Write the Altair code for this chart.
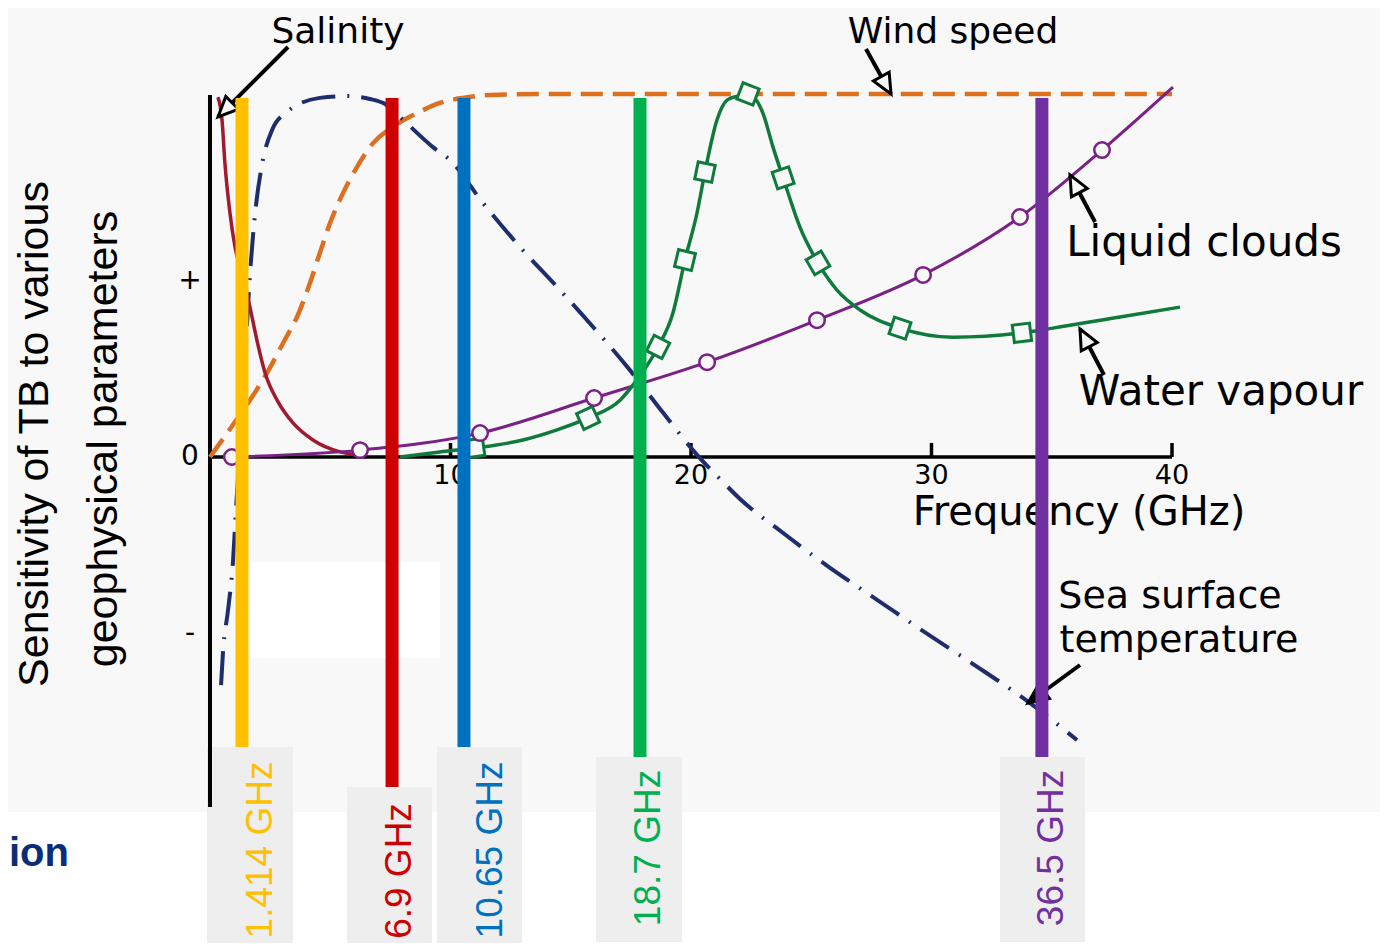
import altair as alt
import numpy as np
import pandas as pd

# ---------------- values ----------------
# x: frequency (GHz); y: relative sensitivity (top of the plot = 1, zero line = 0)
salinity_freq = [0.33, 0.50, 0.62, 0.83, 1.04, 1.33, 1.66, 1.95, 2.29, 2.79, 3.45, 4.28, 5.41, 6.11]
salinity_sens = [0.994, 0.931, 0.812, 0.674, 0.580, 0.508, 0.414, 0.323, 0.232, 0.157, 0.094, 0.047, 0.014, 0.006]

sst_freq = [0.46, 0.54, 0.75, 0.96, 1.08, 1.37, 1.66, 1.87, 2.16, 2.58, 3.20, 4.57, 5.70, 6.65, 7.28,
            7.90, 9.27, 9.98, 11.35, 12.89, 14.43, 15.93, 17.46, 18.84, 20.25, 21.21, 22.04, 23.83,
            25.65, 27.86, 29.81, 31.73, 34.10, 36.05]
sst_sens = [-0.630, -0.539, -0.423, -0.285, -0.146, 0.157, 0.503, 0.669, 0.807, 0.903, 0.953, 0.992,
            0.997, 0.989, 0.975, 0.939, 0.856, 0.820, 0.702, 0.580, 0.470, 0.359, 0.240, 0.122, 0.006,
            -0.061, -0.116, -0.210, -0.300, -0.400, -0.488, -0.572, -0.680, -0.782]

wind_freq = [0.0, 0.71, 1.66, 2.37, 3.04, 3.62, 4.16, 4.57, 4.99, 5.53, 6.11, 6.78, 7.61, 8.61, 9.56,
             10.52, 11.64, 14.0, 20.0, 30.0, 40.0]
wind_sens = [0.0, 0.066, 0.157, 0.232, 0.315, 0.387, 0.481, 0.564, 0.646, 0.729, 0.801, 0.867, 0.912,
             0.950, 0.978, 0.992, 1.000, 1.003, 1.003, 1.003, 1.003]

wv_freq = [7.90, 9.56, 11.02, 13.01, 14.43, 15.72, 17.05, 17.75, 18.63, 19.25, 19.75, 20.25, 20.58,
           21.08, 21.50, 21.95, 22.37, 22.99, 23.41, 23.83, 24.53, 25.28, 26.07, 27.03, 28.69, 30.89,
           33.76, 35.05, 37.84, 40.33]
wv_sens = [0.0, 0.014, 0.025, 0.047, 0.075, 0.108, 0.157, 0.213, 0.304, 0.398, 0.544, 0.674, 0.787,
           0.931, 0.986, 0.997, 1.003, 0.950, 0.856, 0.771, 0.635, 0.536, 0.461, 0.406, 0.356, 0.331,
           0.343, 0.356, 0.387, 0.414]
wv_marker_freq = [11.02, 15.72, 18.63, 19.75, 20.58, 22.37, 23.83, 25.28, 28.69, 33.76]
wv_marker_sens = [0.025, 0.108, 0.304, 0.544, 0.787, 1.003, 0.771, 0.536, 0.356, 0.343]

lc_freq = [0.91, 6.24, 11.23, 15.97, 20.67, 25.24, 29.65, 33.68, 37.09, 40.04]
lc_sens = [0.0, 0.019, 0.066, 0.163, 0.262, 0.378, 0.503, 0.663, 0.848, 1.022]
lc_marker_freq = [0.91, 6.24, 11.23, 15.97, 20.67, 25.24, 29.65, 33.68, 37.09]
lc_marker_sens = [0.0, 0.019, 0.066, 0.163, 0.262, 0.378, 0.503, 0.663, 0.848]

# radiometer bands: label, where the band is drawn on the GHz axis, colour
band_labels = ["1.414 GHz", "6.9 GHz", "10.65 GHz", "18.7 GHz", "36.5 GHz"]
band_pos = [1.33, 7.57, 10.56, 17.88, 34.59]
band_colors = ["#FFC000", "#CC0000", "#0070C0", "#00B050", "#7030A0"]

x_tick_vals = [10, 20, 30, 40]
x_tick_text = ["10", "20", "30", "40"]
y_tick_vals = [0.485, 0.0, -0.49]
y_tick_text = ["+", "0", "-"]

# ---------------- layout ----------------
W, H = 1372, 935
XA, XB = -8.399, 48.649
YT, YB = 1.2403, -1.3425
OFF = 8  # page margin

xs = alt.Scale(domain=[XA, XB], nice=False, zero=False)
ys = alt.Scale(domain=[YB, YT], nice=False, zero=False)


def v_of(py):  # page pixel row -> sensitivity value
    return YT - (py - OFF) / H * (YT - YB)


def X(f):
    return alt.X(f, type="quantitative", scale=xs, axis=None)


def Y(f):
    return alt.Y(f, type="quantitative", scale=ys, axis=None)


def PX(f):
    return alt.X(f, type="quantitative", scale=None, axis=None)


def PY(f):
    return alt.Y(f, type="quantitative", scale=None, axis=None)


def cp(v):  # page px -> canvas px
    return [a - OFF for a in v]


PXF = W / (XB - XA)
PXV = H / (YT - YB)

# background panels and label boxes (page pixels)
rects = pd.DataFrame({
    "x0": cp([8, 250, 207, 347, 437, 596, 1000]),
    "x1": cp([1380, 440, 293, 432, 522, 682, 1085]),
    "y0": cp([8, 562, 747, 787, 747, 757, 757]),
    "y1": cp([812, 658, 951, 951, 951, 942, 942]),
    "c": ["#f8f8f8", "#ffffff", "#eeeeee", "#eeeeee", "#eeeeee", "#eeeeee", "#eeeeee"],
})
rect_layer = alt.Chart(rects).mark_rect().encode(
    x=PX("x0"), x2="x1", y=PY("y0"), y2="y1", color=alt.Color("c:N", scale=None))

# axes
xaxis = alt.Chart(pd.DataFrame({"f0": [0], "f1": [40], "v": [0]})).mark_rule(
    color="black", strokeWidth=3.5).encode(x=X("f0"), x2="f1", y=Y("v"))
yaxis = alt.Chart(pd.DataFrame({"f": [0], "v0": [1.0], "v1": [v_of(807)]})).mark_rule(
    color="black", strokeWidth=4).encode(x=X("f"), y=Y("v0"), y2="v1")
ticks = alt.Chart(pd.DataFrame({"f": x_tick_vals, "v0": [0] * 4, "v1": [v_of(443)] * 4})).mark_rule(
    color="black", strokeWidth=3.5).encode(x=X("f"), y=Y("v0"), y2="v1")

xtl = alt.Chart(pd.DataFrame({"f": x_tick_vals, "t": x_tick_text, "py": [484 - OFF] * 4})).mark_text(
    font="DejaVu Sans", fontSize=27, color="black", baseline="alphabetic", align="center").encode(
    x=X("f"), y=PY("py"), text="t:N")
ytl = alt.Chart(pd.DataFrame({"v": y_tick_vals, "t": y_tick_text, "px": [190 - OFF] * 3})).mark_text(
    font="DejaVu Sans", fontSize=28, color="black", baseline="middle", align="center").encode(
    x=PX("px"), y=Y("v"), text="t:N")

# annotation texts
ann = pd.DataFrame({
    "t": ["Liquid  clouds", "Water  vapour", "Frequency (GHz)"],
    "x": cp([1204, 1221, 1079]),
    "y": cp([256, 405, 525]),
    "s": [42, 42, 40],
})
ann_layer = alt.Chart(ann).mark_text(font="DejaVu Sans", color="black", align="center",
                                     baseline="alphabetic").encode(
    x=PX("x"), y=PY("y"), text="t:N", size=alt.Size("s:Q", scale=None))

ann_top = pd.DataFrame({
    "t": ["Salinity", "Wind speed", "Sea surface", "temperature"],
    "x": cp([338, 953, 1170, 1179]),
    "y": cp([43, 43, 608, 652]),
    "s": [36, 36, 38, 38],
})
ann_top_layer = alt.Chart(ann_top).mark_text(font="DejaVu Sans", color="black",
                                             align="center", baseline="alphabetic").encode(
    x=PX("x"), y=PY("y"), text="t:N", size=alt.Size("s:Q", scale=None))

ytitle = pd.DataFrame({"t": ["Sensitivity of  TB  to various", "geophysical parameters"],
                       "x": cp([48, 117]), "y": cp([434, 439])})
ytitle_layer = alt.Chart(ytitle).mark_text(font="Liberation Sans", fontSize=43, color="black", angle=270,
                                           align="center", baseline="alphabetic").encode(
    x=PX("x"), y=PY("y"), text="t:N")

ion_layer = alt.Chart(pd.DataFrame({"t": ["ion"], "x": cp([9]), "y": cp([866])})).mark_text(
    font="Liberation Sans", fontSize=40, fontWeight="bold", color="#0B2C7A", align="left",
    baseline="alphabetic").encode(x=PX("x"), y=PY("y"), text="t:N")


# curves
def line_layer(fr, se, color, width, dash=None):
    kw = dict(color=color, strokeWidth=width, interpolate="monotone")
    if dash:
        kw["strokeDash"] = dash
    return alt.Chart(pd.DataFrame({"f": fr, "v": se})).mark_line(**kw).encode(x=X("f"), y=Y("v"))


wind_l = line_layer(wind_freq, wind_sens, "#DD6F1F", 4.5, [22, 10])
sst_l = line_layer(sst_freq, sst_sens, "#1E2D6B", 4, [34, 12, 2, 12])
sal_l = line_layer(salinity_freq, salinity_sens, "#A01A30", 3.5)
lc_l = line_layer(lc_freq, lc_sens, "#7A2086", 3)
wv_l = line_layer(wv_freq, wv_sens, "#0E7A3C", 3.5)

# marker rotation follows the curve direction on screen
fx = np.array(wv_freq)
fv = np.array(wv_sens)
slope = np.interp(wv_marker_freq, fx, np.gradient(fv, fx))
wv_ang = (np.degrees(np.arctan2(-slope * PXV, PXF))) % 360
wv_m = alt.Chart(pd.DataFrame({"f": wv_marker_freq, "v": wv_marker_sens, "a": wv_ang})).mark_point(
    shape="square", filled=True, fill="#f8f8f8", stroke="#0E7A3C", strokeWidth=3, size=300,
    opacity=1).encode(x=X("f"), y=Y("v"), angle=alt.Angle("a:Q", scale=None))
lc_m = alt.Chart(pd.DataFrame({"f": lc_marker_freq, "v": lc_marker_sens})).mark_point(
    shape="circle", filled=True, fill="#f8f8f8", stroke="#7A2086", strokeWidth=2.5, size=240,
    opacity=1).encode(x=X("f"), y=Y("v"))

# arrows (page pixels: tail -> tip)
tail_x = cp([288, 866, 1095, 1104, 1080])
tail_y = cp([47, 49, 222, 375, 665])
tip_x = cp([218, 891, 1070, 1080, 1028])
tip_y = cp([117, 94, 175, 329, 703])
arr = pd.DataFrame({"x0": tail_x, "y0": tail_y, "x1": tip_x, "y1": tip_y})
arr["a"] = np.degrees(np.arctan2(arr.x1 - arr.x0, -(arr.y1 - arr.y0))) % 360
arr["fillc"] = ["#f8f8f8"] * 4 + ["#000000"]
shafts = alt.Chart(arr).mark_rule(color="black", strokeWidth=4).encode(
    x=PX("x0"), y=PY("y0"), x2="x1", y2="y1")
heads = alt.Chart(arr).mark_point(shape="M0,0L0.45,1L-0.45,1Z", filled=True, stroke="black",
                                  strokeWidth=3, size=1600, opacity=1).encode(
    x=PX("x1"), y=PY("y1"), angle=alt.Angle("a:Q", scale=None), fill=alt.Fill("fillc:N", scale=None))

# band bars and their labels
bars = alt.Chart(pd.DataFrame({
    "f": band_pos, "v0": [v_of(98)] * 5, "v1": [v_of(p) for p in [747, 787, 747, 757, 757]],
    "c": band_colors})).mark_rule(strokeWidth=13).encode(
    x=X("f"), y=Y("v0"), y2="v1", color=alt.Color("c:N", scale=None))

blabels = alt.Chart(pd.DataFrame({
    "t": band_labels, "x": cp([272, 411, 502, 660, 1063]), "y": cp([850, 871, 850, 848, 848]),
    "c": band_colors})).mark_text(
    font="Liberation Sans", fontSize=37, angle=270,
    align="center", baseline="alphabetic").encode(
    x=PX("x"), y=PY("y"), text="t:N", color=alt.Color("c:N", scale=None))

chart = alt.layer(
    rect_layer, xaxis, yaxis, ticks, xtl, ytl, ann_layer, ann_top_layer, ytitle_layer, ion_layer,
    wind_l, sst_l, sal_l, lc_l, wv_l, wv_m, lc_m, shafts, heads, bars, blabels
).resolve_scale(x="independent", y="independent", color="independent", size="independent").properties(
    width=W, height=H, padding=0, autosize=alt.AutoSizeParams(type="none"), background="white"
).configure_view(stroke=None)

chart.save("out.html", embed_options={"renderer": "svg", "actions": False})
